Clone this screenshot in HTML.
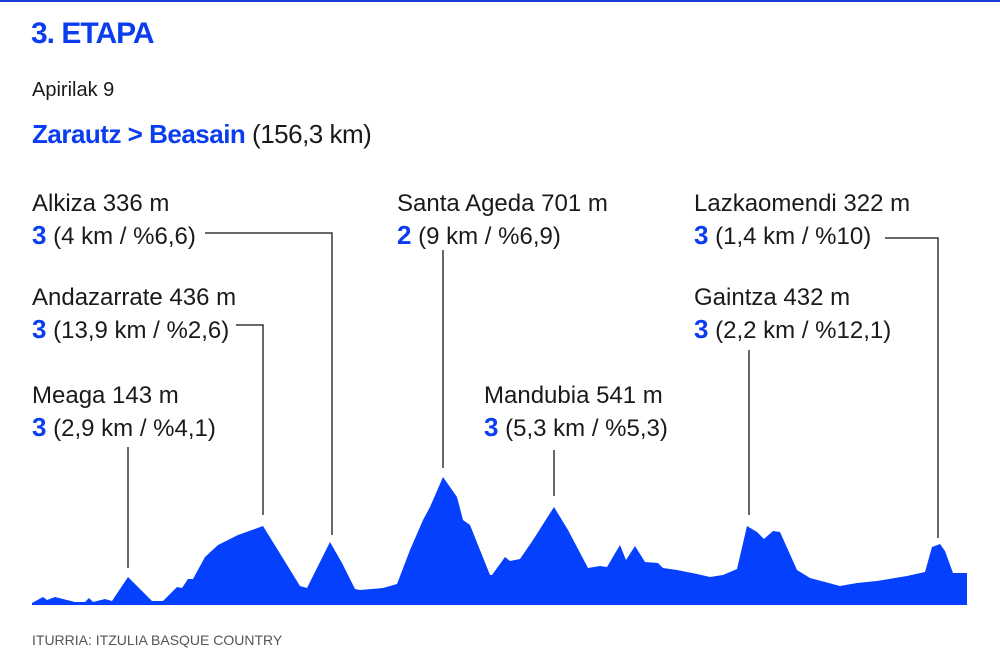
<!DOCTYPE html>
<html><head><meta charset="utf-8"><style>
body{margin:0;background:#fff}
svg{display:block}
text{font-family:"Liberation Sans",sans-serif}
.l{font-size:24px;fill:#1a1a1a}
.b{font-weight:bold;fill:#0a3cf0}
</style></head><body>
<svg width="1000" height="666" viewBox="0 0 1000 666">
<rect x="0" y="0" width="1000" height="2" fill="#1a3fd6"/>
<text x="31" y="43" font-size="30" font-weight="bold" fill="#0a3cf0" letter-spacing="-1">3. ETAPA</text>
<text x="32" y="96" font-size="20" fill="#1a1a1a">Apirilak 9</text>
<text x="32" y="143" font-size="26" fill="#1a1a1a" letter-spacing="-0.5"><tspan font-weight="bold" fill="#0a3cf0">Zarautz &gt; Beasain</tspan> (156,3 km)</text>
<g class="l">
<text x="32" y="211">Alkiza 336 m</text>
<text x="32" y="244"><tspan class="b" font-size="26">3</tspan> (4 km / %6,6)</text>
<text x="32" y="305">Andazarrate 436 m</text>
<text x="32" y="338"><tspan class="b" font-size="26">3</tspan> (13,9 km / %2,6)</text>
<text x="32" y="403">Meaga 143 m</text>
<text x="32" y="436"><tspan class="b" font-size="26">3</tspan> (2,9 km / %4,1)</text>
<text x="397" y="211">Santa Ageda 701 m</text>
<text x="397" y="244"><tspan class="b" font-size="26">2</tspan> (9 km / %6,9)</text>
<text x="484" y="403">Mandubia 541 m</text>
<text x="484" y="436"><tspan class="b" font-size="26">3</tspan> (5,3 km / %5,3)</text>
<text x="694" y="211">Lazkaomendi 322 m</text>
<text x="694" y="244"><tspan class="b" font-size="26">3</tspan> (1,4 km / %10)</text>
<text x="694" y="305">Gaintza 432 m</text>
<text x="694" y="338"><tspan class="b" font-size="26">3</tspan> (2,2 km / %12,1)</text>
</g>
<g stroke="#3a3530" stroke-width="1.5" fill="none">
<path d="M205 233H332V535"/>
<path d="M236 325H263V515"/>
<path d="M128 447V568"/>
<path d="M443 250V468"/>
<path d="M554 450V496"/>
<path d="M749 350V515"/>
<path d="M885 238H938V538"/>
</g>
<path fill="#0540ff" d="M32 605L32 603L43 597L47 600L55 597L75 602L85 602L89 598L93 602L105 599L112 601L128 577L143 592L152 601L163 601L177 587L182 588L188 579L193 579L205 557L218 545L238 535L263 526L300 586L307 588L330 542L342 563L355 589L360 590L383 588L397 584L410 550L423 520L430 507L443 477L457 497L463 520L470 525L490 575L492 575L505 557L510 561L520 559L533 540L554 507L568 530L588 568L600 566L607 567L620 545L626 560L635 546L645 562L658 563L663 568L677 570L697 574L710 577L723 575L737 569L747 526L757 532L764 539L773 531L780 532L797 570L810 578L840 586L857 583L877 581L907 576L925 572L932 547L940 544L945 551L953 573L967 573L967 605Z"/>
<text x="32" y="645" font-size="14" fill="#555">ITURRIA: ITZULIA BASQUE COUNTRY</text>
</svg>
</body></html>
